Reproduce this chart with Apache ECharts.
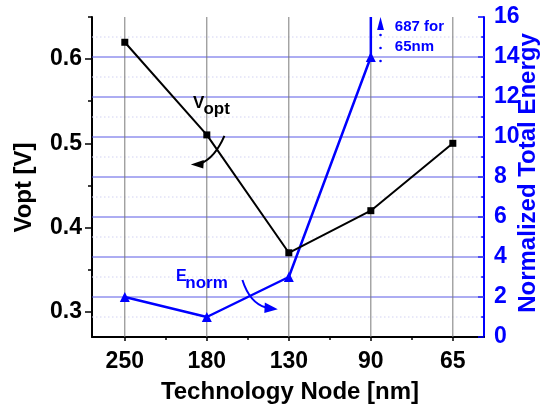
<!DOCTYPE html>
<html><head><meta charset="utf-8">
<script src="https://cdn.jsdelivr.net/npm/echarts@6/dist/echarts.min.js"></script>
<style>html,body{margin:0;padding:0;background:#fff}#c{width:545px;height:408px}</style>
</head><body><div id="c"></div>
<script>
// ---- data ----
const nodes = ['250', '180', '130', '90', '65'];
const vopt = [0.62, 0.51, 0.37, 0.42, 0.50];
const enorm = [2, 1, 3, 14];          // 65 nm value (687) is off scale
const enormOffScale = [14, 16];       // arrow going off the top at 90->65 nm
const offScaleText = ['687 for', '65nm'];
const vTicks = [0.3, 0.4, 0.5, 0.6];
const vMinorTicks = [0.35, 0.45, 0.55, 0.65];
const eMajorGrid = [2, 4, 6, 8, 10, 12, 14];
const eMinorGrid = [1, 3, 5, 7, 9, 11, 13, 15];
const pos = nodes.map((_, i) => i + 1);
const posMinor = [1.5, 2.5, 3.5, 4.5];

const FONT = '"Liberation Sans", Arial, sans-serif';
const BLUE = '#0000ff';
const X_MIN = 0.6, X_MAX = 5.38, E_MIN = 0, E_MAX = 16;

const chart = echarts.init(document.getElementById('c'), null, {renderer: 'canvas'});
// grid lines drawn through the axes' own scales
const hGrid = (vals, color, dash) => ({
  type: 'custom', xAxisIndex: 0, yAxisIndex: 1, z: 1, silent: true, clip: false,
  data: vals.map(v => [X_MIN, v]),
  renderItem: (params, api) => {
    const v = api.value(1);
    const a = api.coord([X_MIN, v]), b = api.coord([X_MAX, v]);
    return {type: 'line', shape: {x1: a[0], y1: a[1], x2: b[0], y2: b[1]},
      style: {stroke: color, lineWidth: 1, lineDash: dash}};
  }
});
const vGrid = (vals, color) => ({
  type: 'custom', xAxisIndex: 0, yAxisIndex: 1, z: 1, silent: true, clip: false,
  data: vals.map(v => [v, E_MIN]),
  renderItem: (params, api) => {
    const v = api.value(0);
    const a = api.coord([v, E_MIN]), b = api.coord([v, E_MAX]);
    return {type: 'line', shape: {x1: a[0], y1: a[1], x2: b[0], y2: b[1]},
      style: {stroke: color, lineWidth: 1}};
  }
});
const option = {
  animation: false,
  backgroundColor: '#fff',
  grid: {left: 92, right: 61, top: 17, bottom: 71},
  xAxis: [{
    type: 'value', min: X_MIN, max: X_MAX, position: 'bottom',
    axisLine: {lineStyle: {color: '#000', width: 2}},
    axisTick: {customValues: pos, length: 4, lineStyle: {color: '#000', width: 1.5}},
    axisLabel: {customValues: pos, formatter: v => nodes[Math.round(v) - 1],
      fontSize: 23, fontWeight: 'bold', color: '#000', fontFamily: FONT, margin: 13},
    splitLine: {show: false}
  }, {
    type: 'value', min: X_MIN, max: X_MAX, position: 'bottom', offset: 0,
    axisLine: {show: false},
    axisTick: {customValues: posMinor, length: 3, lineStyle: {color: '#000', width: 1.5}},
    axisLabel: {show: false}, splitLine: {show: false}
  }],
  yAxis: [{
    type: 'value', min: 0.27, max: 0.65, position: 'left',
    axisLine: {show: true, lineStyle: {color: '#000', width: 2}},
    axisTick: {show: true, customValues: vTicks, length: 7, lineStyle: {color: '#000', width: 1.5}},
    axisLabel: {customValues: vTicks, formatter: v => v.toFixed(1),
      fontSize: 23, fontWeight: 'bold', color: '#000', fontFamily: FONT, margin: 10},
    splitLine: {show: false}
  }, {
    type: 'value', min: E_MIN, max: E_MAX, interval: 2, position: 'right',
    axisLine: {show: true, lineStyle: {color: BLUE, width: 2}},
    axisTick: {show: true, inside: true, length: 6, lineStyle: {color: BLUE, width: 1.5}},
    minorTick: {show: true, splitNumber: 2, length: 3, lineStyle: {color: BLUE, width: 1.5}},
    axisLabel: {fontSize: 23, fontWeight: 'bold', color: BLUE, fontFamily: FONT, margin: 10},
    splitLine: {show: false}
  }, {
    type: 'value', min: 0.27, max: 0.65, position: 'left', offset: 0,
    axisLine: {show: false},
    axisTick: {show: true, customValues: vMinorTicks, length: 4, lineStyle: {color: '#000', width: 1.5}},
    axisLabel: {show: false}, splitLine: {show: false}
  }],
  series: [
    hGrid(eMinorGrid, '#d2d2f3', [1.5, 2.5]),
    hGrid(eMajorGrid, '#5a5ae6', null),
    vGrid(pos, '#7a7a7a'),
  {
    type: 'line', xAxisIndex: 0, yAxisIndex: 1, z: 3,
    data: enorm.map((v, i) => [pos[i], v]),
    symbol: 'triangle', symbolSize: 10,
    lineStyle: {color: BLUE, width: 2.5}, itemStyle: {color: BLUE}
  }, {
    type: 'line', xAxisIndex: 0, yAxisIndex: 1, z: 3,
    data: enormOffScale.map(v => [pos[3], v]), symbol: 'none',
    lineStyle: {color: BLUE, width: 2.5}
  }, {
    type: 'line', xAxisIndex: 0, yAxisIndex: 0, z: 4,
    data: vopt.map((v, i) => [pos[i], v]),
    symbol: 'rect', symbolSize: 7,
    lineStyle: {color: '#000', width: 2}, itemStyle: {color: '#000'}
  }]
};
chart.setOption(option);

const P = (x, e) => chart.convertToPixel({xAxisIndex: 0, yAxisIndex: 1}, [x, e]);
const Pv = (x, v) => chart.convertToPixel({xAxisIndex: 0, yAxisIndex: 0}, [x, v]);
const a180 = Pv(pos[1], vopt[1]);        // Vopt label anchor
const e180 = P(pos[1], enorm[1]);        // Enorm label anchor
const e90 = P(pos[3], enorm[3]);         // off-scale arrow anchor
const txt = (text, x, y, size, color, extra) => Object.assign({
  type: 'text', x, y, z: 10,
  style: Object.assign({text, font: 'bold ' + size + 'px ' + FONT, fill: color,
    align: 'left', verticalAlign: 'middle'}, extra || {})
});
const g = [];
// Vopt label
g.push(txt('V', a180[0] - 13.7, a180[1] - 32, 17, '#000'));
g.push(txt('opt', a180[0] - 3.4, a180[1] - 26, 17, '#000'));
// Vopt arrow
g.push({type: 'bezierCurve', z: 10, shape: {x1: a180[0] + 17.6, y1: a180[1] + 1, cpx1: a180[0] + 8, cpy1: a180[1] + 23, x2: a180[0] - 6, y2: a180[1] + 28.5},
  style: {stroke: '#000', lineWidth: 2, fill: null}});
g.push({type: 'polygon', z: 10, shape: {points: [[a180[0] - 16, a180[1] + 29.5], [a180[0] - 3, a180[1] + 25], [a180[0] - 3.5, a180[1] + 33.5]]}, style: {fill: '#000'}});
// Enorm label
g.push(txt('E', e180[0] - 30.7, e180[1] - 40.5, 16, BLUE));
g.push(txt('norm', e180[0] - 21.5, e180[1] - 34, 17, BLUE));
// Enorm arrow
g.push({type: 'bezierCurve', z: 10, shape: {x1: e180[0] + 35.6, y1: e180[1] - 37, cpx1: e180[0] + 43, cpy1: e180[1] - 14, x2: e180[0] + 59, y2: e180[1] - 9.5},
  style: {stroke: BLUE, lineWidth: 2, fill: null}});
g.push({type: 'polygon', z: 10, shape: {points: [[e180[0] + 71, e180[1] - 7.7], [e180[0] + 58, e180[1] - 14.5], [e180[0] + 57.5, e180[1] - 4]]}, style: {fill: BLUE}});
// Off-scale arrow head + dots + text
g.push({type: 'polygon', z: 10, shape: {points: [[e90[0] + 9.7, e90[1] - 40], [e90[0] + 6.3, e90[1] - 27], [e90[0] + 13.1, e90[1] - 27]]}, style: {fill: BLUE}});
[-22, -9, 4].forEach(dy => g.push({type: 'circle', z: 10, shape: {cx: e90[0] + 9.7, cy: e90[1] + dy, r: 1.3}, style: {fill: BLUE}}));
g.push(txt(offScaleText[0], e90[0] + 24, e90[1] - 30, 15, BLUE));
g.push(txt(offScaleText[1], e90[0] + 24, e90[1] - 9.7, 15, BLUE));
// Axis titles
g.push(txt('Technology Node [nm]', 290, 392, 24, '#000', {align: 'center'}));
g.push({type: 'text', x: 24, y: 187.5, rotation: Math.PI / 2, z: 10,
  style: {text: 'Vopt [V]', font: 'bold 24px ' + FONT, fill: '#000', align: 'center', verticalAlign: 'middle'}});
g.push({type: 'text', x: 528, y: 173, rotation: Math.PI / 2, z: 10,
  style: {text: 'Normalized Total Energy', font: 'bold 24px ' + FONT, fill: BLUE, align: 'center', verticalAlign: 'middle'}});
chart.setOption({graphic: g});
</script>
</body></html>
